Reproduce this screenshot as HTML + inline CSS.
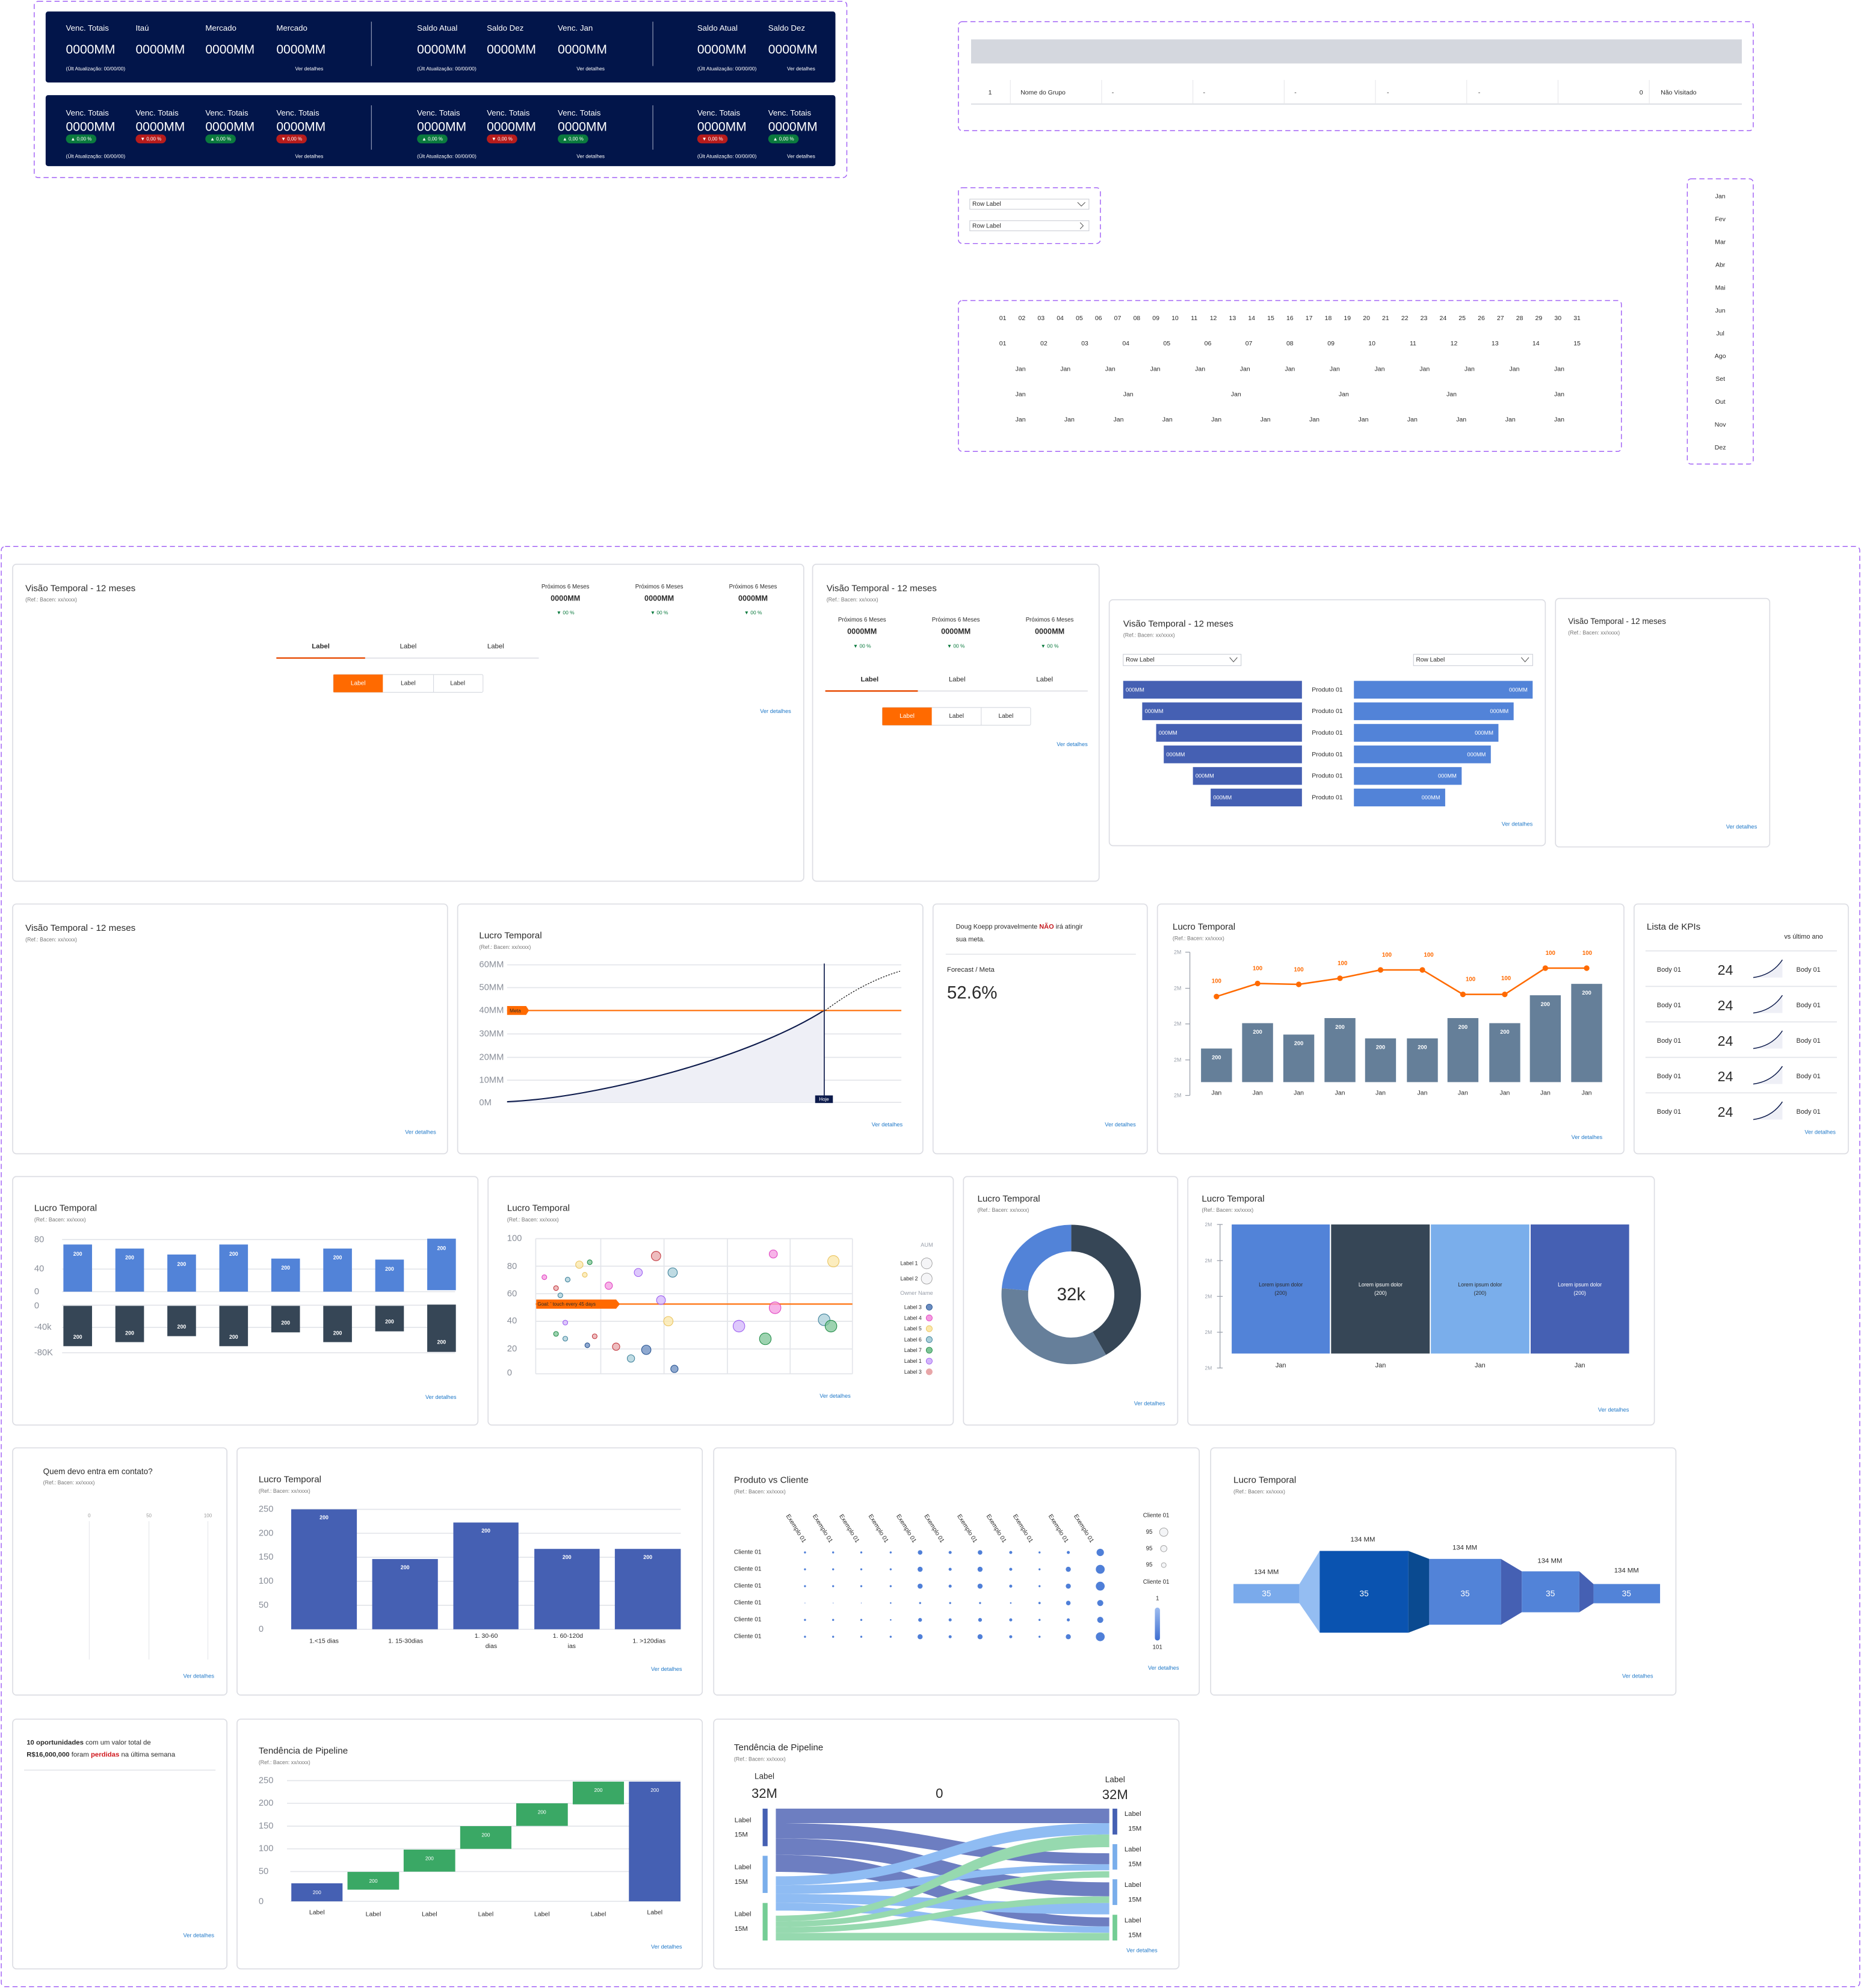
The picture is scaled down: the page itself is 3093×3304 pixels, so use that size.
<!DOCTYPE html>
<html><head><meta charset="utf-8">
<style>
html,body{margin:0;padding:0;background:#fff;}
svg{display:block;}
text{font-family:"Liberation Sans",sans-serif;dominant-baseline:central;fill:#2b2b2b;}
.t{font-size:7.2px;}
.r{font-size:4.2px;fill:#777;}
.v{font-size:4.4px;fill:#1f78c8;text-anchor:end;}
.w{fill:#fff;}
.s{font-size:5.2px;}
.xs{font-size:4.4px;}
.c{text-anchor:middle;}
.e{text-anchor:end;}
.ax{font-size:7px;fill:#8a8f99;}
.ax text{fill:#8a8f99;}
.card{fill:#fff;stroke:#dcdde3;stroke-width:0.8;}
.dash{fill:none;stroke:#a262f5;stroke-width:0.7;stroke-dasharray:4 2.5;}
.g{stroke:#e3e5ea;stroke-width:0.8;}
</style></head><body>
<svg width="3093" height="3304" viewBox="0 0 1468 1568" xmlns="http://www.w3.org/2000/svg">
<rect width="1468" height="1568" fill="#fff"/>

<rect class="dash" x="27" y="1" width="641" height="139" rx="3"/>
<rect x="36" y="9" width="623" height="56" rx="2" fill="#02154a"/>
<rect x="36" y="75" width="623" height="56" rx="2" fill="#02154a"/>
<g stroke="#8a93b0" stroke-width="0.6">
<line x1="293" y1="17" x2="293" y2="52"/><line x1="515" y1="17" x2="515" y2="52"/>
<line x1="293" y1="83" x2="293" y2="118"/><line x1="515" y1="83" x2="515" y2="118"/>
</g>
<g class="w" font-size="6.3">
<text x="52" y="22" class="w">Venc. Totais</text><text x="107" y="22" class="w">Itaú</text><text x="162" y="22" class="w">Mercado</text><text x="218" y="22" class="w">Mercado</text>
<text x="329" y="22" class="w">Saldo Atual</text><text x="384" y="22" class="w">Saldo Dez</text><text x="440" y="22" class="w">Venc. Jan</text>
<text x="550" y="22" class="w">Saldo Atual</text><text x="606" y="22" class="w">Saldo Dez</text>
<text x="52" y="89" class="w">Venc. Totais</text><text x="107" y="89" class="w">Venc. Totais</text><text x="162" y="89" class="w">Venc. Totais</text><text x="218" y="89" class="w">Venc. Totais</text>
<text x="329" y="89" class="w">Venc. Totais</text><text x="384" y="89" class="w">Venc. Totais</text><text x="440" y="89" class="w">Venc. Totais</text>
<text x="550" y="89" class="w">Venc. Totais</text><text x="606" y="89" class="w">Venc. Totais</text>
</g>
<g font-size="10">
<text x="52" y="39" class="w">0000MM</text><text x="107" y="39" class="w">0000MM</text><text x="162" y="39" class="w">0000MM</text><text x="218" y="39" class="w">0000MM</text>
<text x="329" y="39" class="w">0000MM</text><text x="384" y="39" class="w">0000MM</text><text x="440" y="39" class="w">0000MM</text>
<text x="550" y="39" class="w">0000MM</text><text x="606" y="39" class="w">0000MM</text>
<text x="52" y="100" class="w">0000MM</text><text x="107" y="100" class="w">0000MM</text><text x="162" y="100" class="w">0000MM</text><text x="218" y="100" class="w">0000MM</text>
<text x="329" y="100" class="w">0000MM</text><text x="384" y="100" class="w">0000MM</text><text x="440" y="100" class="w">0000MM</text>
<text x="550" y="100" class="w">0000MM</text><text x="606" y="100" class="w">0000MM</text>
</g>
<g font-size="4">
<text x="52" y="54" class="w">(Últ Atualização: 00/00/00)</text><text x="255" y="54" class="w e">Ver detalhes</text>
<text x="329" y="54" class="w">(Últ Atualização: 00/00/00)</text><text x="477" y="54" class="w e">Ver detalhes</text>
<text x="550" y="54" class="w">(Últ Atualização: 00/00/00)</text><text x="643" y="54" class="w e">Ver detalhes</text>
<text x="52" y="123" class="w">(Últ Atualização: 00/00/00)</text><text x="255" y="123" class="w e">Ver detalhes</text>
<text x="329" y="123" class="w">(Últ Atualização: 00/00/00)</text><text x="477" y="123" class="w e">Ver detalhes</text>
<text x="550" y="123" class="w">(Últ Atualização: 00/00/00)</text><text x="643" y="123" class="w e">Ver detalhes</text>
</g>
<g font-size="3.8">
<rect x="52" y="106" width="24" height="7" rx="3.5" fill="#0b7a3e"/><text x="64" y="109.5" class="w c">▲ 0,00 %</text>
<rect x="107" y="106" width="24" height="7" rx="3.5" fill="#b71c1c"/><text x="119" y="109.5" class="w c">▼ 0,00 %</text>
<rect x="162" y="106" width="24" height="7" rx="3.5" fill="#0b7a3e"/><text x="174" y="109.5" class="w c">▲ 0,00 %</text>
<rect x="218" y="106" width="24" height="7" rx="3.5" fill="#b71c1c"/><text x="230" y="109.5" class="w c">▼ 0,00 %</text>
<rect x="329" y="106" width="24" height="7" rx="3.5" fill="#0b7a3e"/><text x="341" y="109.5" class="w c">▲ 0,00 %</text>
<rect x="384" y="106" width="24" height="7" rx="3.5" fill="#b71c1c"/><text x="396" y="109.5" class="w c">▼ 0,00 %</text>
<rect x="440" y="106" width="24" height="7" rx="3.5" fill="#0b7a3e"/><text x="452" y="109.5" class="w c">▲ 0,00 %</text>
<rect x="550" y="106" width="24" height="7" rx="3.5" fill="#b71c1c"/><text x="562" y="109.5" class="w c">▼ 0,00 %</text>
<rect x="606" y="106" width="24" height="7" rx="3.5" fill="#0b7a3e"/><text x="618" y="109.5" class="w c">▲ 0,00 %</text>
</g>

<rect class="dash" x="756" y="17" width="627" height="86" rx="3"/>
<rect x="766" y="31" width="608" height="19" fill="#d4d7de"/>
<line x1="766" y1="82" x2="1374" y2="82" stroke="#d4d7de" stroke-width="0.8"/>
<g stroke="#e6e6ea" stroke-width="0.5">
<line x1="797" y1="63" x2="797" y2="82"/><line x1="869" y1="63" x2="869" y2="82"/><line x1="941" y1="63" x2="941" y2="82"/><line x1="1013" y1="63" x2="1013" y2="82"/><line x1="1085" y1="63" x2="1085" y2="82"/><line x1="1157" y1="63" x2="1157" y2="82"/><line x1="1229" y1="63" x2="1229" y2="82"/><line x1="1301" y1="63" x2="1301" y2="82"/>
</g>
<g font-size="5">
<text x="781" y="73" class="c">1</text><text x="805" y="73">Nome do Grupo</text>
<text x="877" y="73">-</text><text x="949" y="73">-</text><text x="1021" y="73">-</text><text x="1094" y="73">-</text><text x="1166" y="73">-</text>
<text x="1296" y="73" class="e">0</text><text x="1310" y="73">Não Visitado</text>
</g>

<rect class="dash" x="756" y="148" width="112" height="44" rx="3"/>
<rect x="765" y="157" width="94" height="8" fill="#fff" stroke="#c9ccd4" stroke-width="0.5"/>
<rect x="765" y="174" width="94" height="8" fill="#fff" stroke="#c9ccd4" stroke-width="0.5"/>
<text x="767" y="161" font-size="4.8">Row Label</text><text x="767" y="178.5" font-size="4.8">Row Label</text>
<path d="M850,159.5 L853,162.5 L856,159.5" fill="none" stroke="#555" stroke-width="0.5"/>
<path d="M852,175.5 L854.5,178 L852,180.5" fill="none" stroke="#555" stroke-width="0.5"/>

<rect class="dash" x="1331" y="141" width="52" height="225" rx="3"/>
<g font-size="5" text-anchor="middle">
<text x="1357" y="155" class="c">Jan</text><text x="1357" y="173" class="c">Fev</text><text x="1357" y="191" class="c">Mar</text><text x="1357" y="209" class="c">Abr</text><text x="1357" y="227" class="c">Mai</text><text x="1357" y="245" class="c">Jun</text><text x="1357" y="263" class="c">Jul</text><text x="1357" y="281" class="c">Ago</text><text x="1357" y="299" class="c">Set</text><text x="1357" y="317" class="c">Out</text><text x="1357" y="335" class="c">Nov</text><text x="1357" y="353" class="c">Dez</text>
</g>

<rect class="dash" x="756" y="237" width="523" height="119" rx="3"/>
<g font-size="5">
<text x="791" y="251" class="c">01</text><text x="806.1" y="251" class="c">02</text><text x="821.2" y="251" class="c">03</text><text x="836.3" y="251" class="c">04</text><text x="851.4" y="251" class="c">05</text><text x="866.5" y="251" class="c">06</text><text x="881.6" y="251" class="c">07</text><text x="896.7" y="251" class="c">08</text><text x="911.8" y="251" class="c">09</text><text x="926.9" y="251" class="c">10</text><text x="942" y="251" class="c">11</text><text x="957.1" y="251" class="c">12</text><text x="972.2" y="251" class="c">13</text><text x="987.3" y="251" class="c">14</text><text x="1002.4" y="251" class="c">15</text><text x="1017.5" y="251" class="c">16</text><text x="1032.6" y="251" class="c">17</text><text x="1047.7" y="251" class="c">18</text><text x="1062.8" y="251" class="c">19</text><text x="1077.9" y="251" class="c">20</text><text x="1093" y="251" class="c">21</text><text x="1108.1" y="251" class="c">22</text><text x="1123.2" y="251" class="c">23</text><text x="1138.3" y="251" class="c">24</text><text x="1153.4" y="251" class="c">25</text><text x="1168.5" y="251" class="c">26</text><text x="1183.6" y="251" class="c">27</text><text x="1198.7" y="251" class="c">28</text><text x="1213.8" y="251" class="c">29</text><text x="1228.9" y="251" class="c">30</text><text x="1244" y="251" class="c">31</text>
<text x="791" y="271" class="c">01</text><text x="823.4" y="271" class="c">02</text><text x="855.7" y="271" class="c">03</text><text x="888.1" y="271" class="c">04</text><text x="920.4" y="271" class="c">05</text><text x="952.8" y="271" class="c">06</text><text x="985.1" y="271" class="c">07</text><text x="1017.5" y="271" class="c">08</text><text x="1049.9" y="271" class="c">09</text><text x="1082.2" y="271" class="c">10</text><text x="1114.6" y="271" class="c">11</text><text x="1146.9" y="271" class="c">12</text><text x="1179.3" y="271" class="c">13</text><text x="1211.6" y="271" class="c">14</text><text x="1244" y="271" class="c">15</text>
<text x="805" y="291" class="c">Jan</text><text x="840.4" y="291" class="c">Jan</text><text x="875.8" y="291" class="c">Jan</text><text x="911.3" y="291" class="c">Jan</text><text x="946.7" y="291" class="c">Jan</text><text x="982.1" y="291" class="c">Jan</text><text x="1017.5" y="291" class="c">Jan</text><text x="1052.9" y="291" class="c">Jan</text><text x="1088.3" y="291" class="c">Jan</text><text x="1123.8" y="291" class="c">Jan</text><text x="1159.2" y="291" class="c">Jan</text><text x="1194.6" y="291" class="c">Jan</text><text x="1230" y="291" class="c">Jan</text>
<text x="805" y="311" class="c">Jan</text><text x="890" y="311" class="c">Jan</text><text x="975" y="311" class="c">Jan</text><text x="1060" y="311" class="c">Jan</text><text x="1145" y="311" class="c">Jan</text><text x="1230" y="311" class="c">Jan</text>
<text x="805" y="331" class="c">Jan</text><text x="843.6" y="331" class="c">Jan</text><text x="882.3" y="331" class="c">Jan</text><text x="920.9" y="331" class="c">Jan</text><text x="959.5" y="331" class="c">Jan</text><text x="998.2" y="331" class="c">Jan</text><text x="1036.8" y="331" class="c">Jan</text><text x="1075.5" y="331" class="c">Jan</text><text x="1114.1" y="331" class="c">Jan</text><text x="1152.7" y="331" class="c">Jan</text><text x="1191.4" y="331" class="c">Jan</text><text x="1230" y="331" class="c">Jan</text>
</g>

<rect class="dash" x="1" y="431" width="1466" height="1136" rx="3"/>

<rect class="card" x="10" y="445" width="624" height="250" rx="3"/>
<text x="20" y="464" class="t">Visão Temporal - 12 meses</text><text x="20" y="473" class="r">(Ref.: Bacen: xx/xxxx)</text>
<g font-size="4.6">
<text x="446" y="463" class="c">Próximos 6 Meses</text><text x="520" y="463" class="c">Próximos 6 Meses</text><text x="594" y="463" class="c">Próximos 6 Meses</text>
</g>
<g font-size="6" font-weight="bold">
<text x="446" y="472" class="c">0000MM</text><text x="520" y="472" class="c">0000MM</text><text x="594" y="472" class="c">0000MM</text>
</g>
<g font-size="4">
<text x="446" y="483" class="c" style="fill:#0b7a3e">▼ 00 %</text><text x="520" y="483" class="c" style="fill:#0b7a3e">▼ 00 %</text><text x="594" y="483" class="c" style="fill:#0b7a3e">▼ 00 %</text>
</g>
<g font-size="5.4"><text x="253" y="510" class="c" font-weight="bold">Label</text><text x="322" y="510" class="c">Label</text><text x="391" y="510" class="c">Label</text></g>
<line x1="218" y1="519" x2="425" y2="519" stroke="#dcdde3" stroke-width="0.8"/><line x1="218" y1="519" x2="288" y2="519" stroke="#e8530e" stroke-width="1.2"/>
<rect x="263" y="532" width="118" height="14" rx="1" fill="#fff" stroke="#d4d7de" stroke-width="0.5"/><rect x="263" y="532" width="39" height="14" fill="#ff6a00"/>
<line x1="342" y1="532" x2="342" y2="546" stroke="#d4d7de" stroke-width="0.5"/>
<g font-size="4.8"><text x="282.5" y="539" class="c w">Label</text><text x="322" y="539" class="c">Label</text><text x="361" y="539" class="c">Label</text></g>
<text x="624" y="561" class="v">Ver detalhes</text>

<rect class="card" x="641" y="445" width="226" height="250" rx="3"/>
<text x="652" y="464" class="t">Visão Temporal - 12 meses</text><text x="652" y="473" class="r">(Ref.: Bacen: xx/xxxx)</text>
<g font-size="4.6"><text x="680" y="489" class="c">Próximos 6 Meses</text><text x="754" y="489" class="c">Próximos 6 Meses</text><text x="828" y="489" class="c">Próximos 6 Meses</text></g>
<g font-size="6" font-weight="bold"><text x="680" y="498" class="c">0000MM</text><text x="754" y="498" class="c">0000MM</text><text x="828" y="498" class="c">0000MM</text></g>
<g font-size="4"><text x="680" y="509.5" class="c" style="fill:#0b7a3e">▼ 00 %</text><text x="754" y="509.5" class="c" style="fill:#0b7a3e">▼ 00 %</text><text x="828" y="509.5" class="c" style="fill:#0b7a3e">▼ 00 %</text></g>
<g font-size="5.4"><text x="686" y="536" class="c" font-weight="bold">Label</text><text x="755" y="536" class="c">Label</text><text x="824" y="536" class="c">Label</text></g>
<line x1="651" y1="545" x2="858" y2="545" stroke="#dcdde3" stroke-width="0.8"/><line x1="651" y1="545" x2="724" y2="545" stroke="#e8530e" stroke-width="1.2"/>
<rect x="696" y="558" width="117" height="14" rx="1" fill="#fff" stroke="#d4d7de" stroke-width="0.5"/><rect x="696" y="558" width="39" height="14" fill="#ff6a00"/>
<line x1="774" y1="558" x2="774" y2="572" stroke="#d4d7de" stroke-width="0.5"/>
<g font-size="4.8"><text x="715.5" y="565" class="c w">Label</text><text x="754.5" y="565" class="c">Label</text><text x="793.5" y="565" class="c">Label</text></g>
<text x="858" y="587" class="v">Ver detalhes</text>

<rect class="card" x="875" y="473" width="344" height="194" rx="3"/>
<text x="886" y="492" class="t">Visão Temporal - 12 meses</text><text x="886" y="501" class="r">(Ref.: Bacen: xx/xxxx)</text>
<rect x="886" y="516" width="93" height="9" fill="#fff" stroke="#c9ccd4" stroke-width="0.5"/><rect x="1115" y="516" width="94" height="9" fill="#fff" stroke="#c9ccd4" stroke-width="0.5"/>
<text x="888" y="520.5" font-size="4.8">Row Label</text><text x="1117" y="520.5" font-size="4.8">Row Label</text>
<path d="M970,518.5 L973,522 L976,518.5" fill="none" stroke="#555" stroke-width="0.5"/><path d="M1200,518.5 L1203,522 L1206,518.5" fill="none" stroke="#555" stroke-width="0.5"/>
<g fill="#4560b3">
<rect x="886" y="537" width="141" height="14"/><rect x="901" y="554" width="126" height="14"/><rect x="912" y="571" width="115" height="14"/><rect x="918" y="588" width="109" height="14"/><rect x="941" y="605" width="86" height="14"/><rect x="955" y="622" width="72" height="14"/>
</g>
<g fill="#5283d8">
<rect x="1068" y="537" width="141" height="14"/><rect x="1068" y="554" width="126" height="14"/><rect x="1068" y="571" width="114" height="14"/><rect x="1068" y="588" width="108" height="14"/><rect x="1068" y="605" width="85" height="14"/><rect x="1068" y="622" width="72" height="14"/>
</g>
<g font-size="4.4">
<text x="888" y="544" class="w">000MM</text><text x="903" y="561" class="w">000MM</text><text x="914" y="578" class="w">000MM</text><text x="920" y="595" class="w">000MM</text><text x="943" y="612" class="w">000MM</text><text x="957" y="629" class="w">000MM</text>
<text x="1205" y="544" class="w e">000MM</text><text x="1190" y="561" class="w e">000MM</text><text x="1178" y="578" class="w e">000MM</text><text x="1172" y="595" class="w e">000MM</text><text x="1149" y="612" class="w e">000MM</text><text x="1136" y="629" class="w e">000MM</text>
</g>
<g font-size="5"><text x="1047" y="544" class="c">Produto 01</text><text x="1047" y="561" class="c">Produto 01</text><text x="1047" y="578" class="c">Produto 01</text><text x="1047" y="595" class="c">Produto 01</text><text x="1047" y="612" class="c">Produto 01</text><text x="1047" y="629" class="c">Produto 01</text></g>
<text x="1209" y="650" class="v">Ver detalhes</text>

<rect class="card" x="1227" y="472" width="169" height="196" rx="3"/>
<text x="1237" y="490" class="t" style="font-size:6.4px">Visão Temporal - 12 meses</text><text x="1237" y="499" class="r">(Ref.: Bacen: xx/xxxx)</text>
<text x="1386" y="652" class="v">Ver detalhes</text>

<rect class="card" x="10" y="713" width="343" height="197" rx="3"/>
<text x="20" y="732" class="t">Visão Temporal - 12 meses</text><text x="20" y="741" class="r">(Ref.: Bacen: xx/xxxx)</text>
<text x="344" y="893" class="v">Ver detalhes</text>

<rect class="card" x="361" y="713" width="367" height="197" rx="3"/>
<text x="378" y="738" class="t">Lucro Temporal</text><text x="378" y="747" class="r">(Ref.: Bacen: xx/xxxx)</text>
<g class="g"><line x1="400" y1="761" x2="711" y2="761"/><line x1="400" y1="779" x2="711" y2="779"/><line x1="400" y1="815.5" x2="711" y2="815.5"/><line x1="400" y1="834" x2="711" y2="834"/><line x1="400" y1="852" x2="711" y2="852"/><line x1="400" y1="869.5" x2="711" y2="869.5"/></g>
<g class="ax"><text x="378" y="761">60MM</text><text x="378" y="779">50MM</text><text x="378" y="797">40MM</text><text x="378" y="815.5">30MM</text><text x="378" y="834">20MM</text><text x="378" y="852">10MM</text><text x="378" y="870">0M</text></g>
<path d="M400,869 C470,866 590,835 650,797 L650,869.5 L400,869.5 Z" fill="#eeeff6"/>
<path d="M400,869 C470,866 590,835 650,797" fill="none" stroke="#0c1a4b" stroke-width="1"/>
<line x1="400" y1="797" x2="711" y2="797" stroke="#ff6a00" stroke-width="1"/>
<path d="M400,793.5 L415,793.5 L417.3,797 L415,800.5 L400,800.5 Z" fill="#ff6a00"/><text x="402" y="797" font-size="4">Meta</text>
<path d="M651,797 Q680,775 710,766" fill="none" stroke="#111" stroke-width="0.6" stroke-dasharray="1.2 1"/>
<line x1="650.2" y1="760" x2="650.2" y2="869" stroke="#0c1a4b" stroke-width="0.8"/>
<rect x="643" y="864" width="14" height="6" fill="#0c1a4b"/><text x="650" y="867" font-size="3.8" class="c w">Hoje</text>
<text x="712" y="887" class="v">Ver detalhes</text>

<rect class="card" x="736" y="713" width="169" height="197" rx="3"/>
<text x="754" y="731" font-size="5.2">Doug Koepp provavelmente <tspan font-weight="bold" style="fill:#c4161c">NÃO</tspan> irá atingir</text>
<text x="754" y="741" font-size="5.2">sua meta.</text>
<line x1="746" y1="752.6" x2="896" y2="752.6" stroke="#dcdde3" stroke-width="0.6"/>
<text x="747" y="765" font-size="5.4">Forecast / Meta</text>
<text x="747" y="783" font-size="14">52.6%</text>
<text x="896" y="887" class="v">Ver detalhes</text>

<rect class="card" x="913" y="713" width="368" height="197" rx="3"/>
<text x="925" y="731" class="t">Lucro Temporal</text><text x="925" y="740" class="r">(Ref.: Bacen: xx/xxxx)</text>
<line x1="938.6" y1="751" x2="938.6" y2="864" stroke="#9aa0ab" stroke-width="0.6"/>
<g stroke="#9aa0ab" stroke-width="0.6"><line x1="935" y1="751" x2="938.6" y2="751"/><line x1="935" y1="779.5" x2="938.6" y2="779.5"/><line x1="935" y1="807.6" x2="938.6" y2="807.6"/><line x1="935" y1="836" x2="938.6" y2="836"/><line x1="935" y1="864" x2="938.6" y2="864"/></g>
<g font-size="4.2"><text x="926" y="751" style="fill:#9aa0ab">2M</text><text x="926" y="779.5" style="fill:#9aa0ab">2M</text><text x="926" y="807.6" style="fill:#9aa0ab">2M</text><text x="926" y="836" style="fill:#9aa0ab">2M</text><text x="926" y="864" style="fill:#9aa0ab">2M</text></g>
<g fill="#657f99">
<rect x="947.4" y="827" width="24.4" height="26.5"/><rect x="979.8" y="807" width="24.4" height="46.5"/><rect x="1012.3" y="816" width="24.4" height="37.5"/><rect x="1044.8" y="803" width="24.4" height="50.5"/><rect x="1076.8" y="819" width="24.4" height="34.5"/><rect x="1109.8" y="819" width="24.4" height="34.5"/><rect x="1141.8" y="803" width="24.4" height="50.5"/><rect x="1174.8" y="807" width="24.4" height="46.5"/><rect x="1206.8" y="785" width="24.4" height="68.5"/><rect x="1239.4" y="776" width="24.4" height="77.5"/>
</g>
<g font-size="4.4" font-weight="bold">
<text x="959.6" y="834" class="c w">200</text><text x="992" y="814" class="c w">200</text><text x="1024.5" y="823" class="c w">200</text><text x="1057" y="810" class="c w">200</text><text x="1089" y="826" class="c w">200</text><text x="1122" y="826" class="c w">200</text><text x="1154" y="810" class="c w">200</text><text x="1187" y="814" class="c w">200</text><text x="1219" y="792" class="c w">200</text><text x="1251.6" y="783" class="c w">200</text>
</g>
<polyline points="959.6,786 992,775.7 1024.5,776.4 1057,771.6 1089,765 1122,765 1154,784.3 1187,784.3 1219,763.6 1251.6,763.6" fill="none" stroke="#ff6a00" stroke-width="1.2"/>
<g fill="#ff6a00"><circle cx="959.6" cy="786" r="2.2"/><circle cx="992" cy="775.7" r="2.2"/><circle cx="1024.5" cy="776.4" r="2.2"/><circle cx="1057" cy="771.6" r="2.2"/><circle cx="1089" cy="765" r="2.2"/><circle cx="1122" cy="765" r="2.2"/><circle cx="1154" cy="784.3" r="2.2"/><circle cx="1187" cy="784.3" r="2.2"/><circle cx="1219" cy="763.6" r="2.2"/><circle cx="1251.6" cy="763.6" r="2.2"/></g>
<g font-size="4.6" font-weight="bold">
<text x="959.6" y="774" class="c" style="fill:#ff6a00">100</text><text x="992" y="764" class="c" style="fill:#ff6a00">100</text><text x="1024.5" y="765" class="c" style="fill:#ff6a00">100</text><text x="1059" y="760" class="c" style="fill:#ff6a00">100</text><text x="1094" y="753.5" class="c" style="fill:#ff6a00">100</text><text x="1127" y="753.5" class="c" style="fill:#ff6a00">100</text><text x="1160" y="772.5" class="c" style="fill:#ff6a00">100</text><text x="1188" y="772" class="c" style="fill:#ff6a00">100</text><text x="1223" y="752" class="c" style="fill:#ff6a00">100</text><text x="1252" y="752" class="c" style="fill:#ff6a00">100</text>
</g>
<g font-size="5"><text x="959.6" y="862" class="c">Jan</text><text x="992" y="862" class="c">Jan</text><text x="1024.5" y="862" class="c">Jan</text><text x="1057" y="862" class="c">Jan</text><text x="1089" y="862" class="c">Jan</text><text x="1122" y="862" class="c">Jan</text><text x="1154" y="862" class="c">Jan</text><text x="1187" y="862" class="c">Jan</text><text x="1219" y="862" class="c">Jan</text><text x="1251.6" y="862" class="c">Jan</text></g>
<text x="1264" y="897" class="v">Ver detalhes</text>

<rect class="card" x="1289" y="713" width="169" height="197" rx="3"/>
<text x="1299" y="731" class="t">Lista de KPIs</text><text x="1438" y="739" font-size="5.2" class="e">vs último ano</text>
<g stroke="#e3e5ea" stroke-width="0.8"><line x1="1298" y1="750" x2="1449" y2="750"/><line x1="1298" y1="778" x2="1449" y2="778"/><line x1="1298" y1="806" x2="1449" y2="806"/><line x1="1298" y1="834" x2="1449" y2="834"/><line x1="1298" y1="862" x2="1449" y2="862"/></g>
<g font-size="5.2">
<text x="1307" y="765">Body 01</text><text x="1417" y="765">Body 01</text>
<text x="1307" y="793">Body 01</text><text x="1417" y="793">Body 01</text>
<text x="1307" y="821">Body 01</text><text x="1417" y="821">Body 01</text>
<text x="1307" y="849">Body 01</text><text x="1417" y="849">Body 01</text>
<text x="1307" y="877">Body 01</text><text x="1417" y="877">Body 01</text>
</g>
<g font-size="11"><text x="1361" y="765" class="c">24</text><text x="1361" y="793" class="c">24</text><text x="1361" y="821" class="c">24</text><text x="1361" y="849" class="c">24</text><text x="1361" y="877" class="c">24</text></g>
<g fill="#eeeff6" stroke="none">
<path d="M1383,771 Q1398,769 1406,757 L1406,771 Z"/><path d="M1383,799 Q1398,797 1406,785 L1406,799 Z"/><path d="M1383,827 Q1398,825 1406,813 L1406,827 Z"/><path d="M1383,855 Q1398,853 1406,841 L1406,855 Z"/><path d="M1383,883 Q1398,881 1406,869 L1406,883 Z"/>
</g>
<g fill="none" stroke="#0c1a4b" stroke-width="0.7">
<path d="M1383,771 Q1398,769 1406,757"/><path d="M1383,799 Q1398,797 1406,785"/><path d="M1383,827 Q1398,825 1406,813"/><path d="M1383,855 Q1398,853 1406,841"/><path d="M1383,883 Q1398,881 1406,869"/>
</g>
<text x="1448" y="893" class="v">Ver detalhes</text>

<rect class="card" x="10" y="928" width="367" height="196" rx="3"/>
<text x="27" y="953" class="t">Lucro Temporal</text><text x="27" y="962" class="r">(Ref.: Bacen: xx/xxxx)</text>
<g class="g"><line x1="49" y1="977.7" x2="359" y2="977.7"/><line x1="49" y1="1001" x2="359" y2="1001"/><line x1="49" y1="1018.8" x2="359" y2="1018.8"/><line x1="49" y1="1029.5" x2="359" y2="1029.5"/><line x1="49" y1="1047" x2="359" y2="1047"/><line x1="49" y1="1067" x2="359" y2="1067"/></g>
<g class="ax"><text x="27" y="978">80</text><text x="27" y="1001">40</text><text x="27" y="1019">0</text><text x="27" y="1030">0</text><text x="27" y="1047">-40k</text><text x="27" y="1067">-80K</text></g>
<g fill="#5283d8">
<rect x="50" y="981.6" width="22.6" height="37.2"/><rect x="91" y="984.8" width="22.6" height="34"/><rect x="132" y="989.5" width="22.6" height="29.3"/><rect x="173" y="981.6" width="22.6" height="37.2"/><rect x="214" y="992.7" width="22.6" height="26.1"/><rect x="255" y="984.8" width="22.6" height="34"/><rect x="296" y="993.5" width="22.6" height="25.3"/><rect x="337" y="977" width="22.6" height="40.6"/>
</g>
<g fill="#364656">
<rect x="50" y="1030" width="22.6" height="31.8"/><rect x="91" y="1030" width="22.6" height="28.6"/><rect x="132" y="1030" width="22.6" height="23.9"/><rect x="173" y="1030" width="22.6" height="31.8"/><rect x="214" y="1030" width="22.6" height="20.9"/><rect x="255" y="1030" width="22.6" height="28.6"/><rect x="296" y="1030" width="22.6" height="20.1"/><rect x="337" y="1029" width="22.6" height="37.3"/>
</g>
<g font-size="4.2" font-weight="bold">
<text x="61.3" y="989" class="c w">200</text><text x="102.3" y="992" class="c w">200</text><text x="143.3" y="997" class="c w">200</text><text x="184.3" y="989" class="c w">200</text><text x="225.3" y="1000" class="c w">200</text><text x="266.3" y="992" class="c w">200</text><text x="307.3" y="1001" class="c w">200</text><text x="348.3" y="984.5" class="c w">200</text>
<text x="61.3" y="1054.5" class="c w">200</text><text x="102.3" y="1051.5" class="c w">200</text><text x="143.3" y="1046.5" class="c w">200</text><text x="184.3" y="1054.5" class="c w">200</text><text x="225.3" y="1043.5" class="c w">200</text><text x="266.3" y="1051.5" class="c w">200</text><text x="307.3" y="1042.5" class="c w">200</text><text x="348.3" y="1058.5" class="c w">200</text>
</g>
<text x="360" y="1102" class="v">Ver detalhes</text>

<rect class="card" x="385" y="928" width="367" height="196" rx="3"/>
<text x="400" y="953" class="t">Lucro Temporal</text><text x="400" y="962" class="r">(Ref.: Bacen: xx/xxxx)</text>
<g class="g"><line x1="422.6" y1="977" x2="672.4" y2="977"/><line x1="422.6" y1="998.7" x2="672.4" y2="998.7"/><line x1="422.6" y1="1020.4" x2="672.4" y2="1020.4"/><line x1="422.6" y1="1042.2" x2="672.4" y2="1042.2"/><line x1="422.6" y1="1064" x2="672.4" y2="1064"/><line x1="422.6" y1="1083.6" x2="672.4" y2="1083.6"/>
<line x1="422.6" y1="977" x2="422.6" y2="1083.6"/><line x1="473.9" y1="977" x2="473.9" y2="1083.6"/><line x1="523.8" y1="977" x2="523.8" y2="1083.6"/><line x1="573.8" y1="977" x2="573.8" y2="1083.6"/><line x1="623.3" y1="977" x2="623.3" y2="1083.6"/><line x1="672.4" y1="977" x2="672.4" y2="1083.6"/></g>
<g class="ax"><text x="400" y="977">100</text><text x="400" y="999">80</text><text x="400" y="1020.5">60</text><text x="400" y="1042">40</text><text x="400" y="1064">20</text><text x="400" y="1083">0</text></g>
<line x1="422.6" y1="1028.6" x2="672.4" y2="1028.6" stroke="#ff6a00" stroke-width="1"/>
<path d="M423,1025 L486,1025 L489,1028.6 L486,1032.2 L423,1032.2 Z" fill="#ff6a00"/><text x="424" y="1028.6" font-size="3.8">Goal: ' touch every 45 days</text>
<g stroke-width="0.5" fill-opacity="0.75">
<circle cx="429.4" cy="1007.4" r="1.9" fill="#f49ae0" stroke="#e040c0"/>
<circle cx="438.6" cy="1016" r="1.9" fill="#e8a6a8" stroke="#c0333a"/>
<circle cx="442" cy="1021.7" r="1.9" fill="#a9cfd9" stroke="#3b7f99"/>
<circle cx="457" cy="997.5" r="2.9" fill="#fbe7a8" stroke="#e9c25a"/>
<circle cx="465.2" cy="995.6" r="1.9" fill="#7cc495" stroke="#1e8a45"/>
<circle cx="461.3" cy="1005.5" r="1.9" fill="#fbe7a8" stroke="#e9c25a"/>
<circle cx="447.8" cy="1009.3" r="1.9" fill="#a9cfd9" stroke="#3b7f99"/>
<circle cx="480.2" cy="1014.1" r="2.9" fill="#f49ae0" stroke="#e040c0"/>
<circle cx="503.5" cy="1003.7" r="3.2" fill="#d3b5fb" stroke="#9b5cf0"/>
<circle cx="517.5" cy="990.7" r="3.7" fill="#e8a6a8" stroke="#c0333a"/>
<circle cx="530.6" cy="1003.7" r="3.7" fill="#a9cfd9" stroke="#3b7f99"/>
<circle cx="521.4" cy="1025.5" r="3.5" fill="#d3b5fb" stroke="#9b5cf0"/>
<circle cx="610" cy="989.1" r="3.2" fill="#f49ae0" stroke="#e040c0"/>
<circle cx="657.4" cy="994.8" r="4.5" fill="#fbe7a8" stroke="#e9c25a"/>
<circle cx="445.9" cy="1043.2" r="1.9" fill="#d3b5fb" stroke="#9b5cf0"/>
<circle cx="438.6" cy="1052.1" r="1.9" fill="#7cc495" stroke="#1e8a45"/>
<circle cx="445.9" cy="1055.9" r="1.9" fill="#a9cfd9" stroke="#3b7f99"/>
<circle cx="469.1" cy="1054" r="1.9" fill="#e8a6a8" stroke="#c0333a"/>
<circle cx="463.3" cy="1061.1" r="1.9" fill="#6a8cc0" stroke="#24518f"/>
<circle cx="486" cy="1062.2" r="2.9" fill="#e8a6a8" stroke="#c0333a"/>
<circle cx="509.8" cy="1064.7" r="3.7" fill="#6a8cc0" stroke="#24518f"/>
<circle cx="497.7" cy="1071.5" r="2.9" fill="#a9cfd9" stroke="#3b7f99"/>
<circle cx="532" cy="1079.7" r="2.9" fill="#6a8cc0" stroke="#24518f"/>
<circle cx="527.2" cy="1042.1" r="3.7" fill="#fbe7a8" stroke="#e9c25a"/>
<circle cx="611.4" cy="1031.5" r="4.6" fill="#f49ae0" stroke="#e040c0"/>
<circle cx="582.9" cy="1046" r="4.6" fill="#d3b5fb" stroke="#9b5cf0"/>
<circle cx="603.7" cy="1056" r="4.6" fill="#7cc495" stroke="#1e8a45"/>
<circle cx="650.1" cy="1041" r="4.6" fill="#a9cfd9" stroke="#3b7f99"/>
<circle cx="655.5" cy="1046" r="4.6" fill="#7cc495" stroke="#1e8a45"/>
</g>
<text x="736" y="982" font-size="4.4" class="e" style="fill:#9aa0ab">AUM</text>
<circle cx="731" cy="996.5" r="4.3" fill="#f5f5f7" stroke="#999" stroke-width="0.4"/><text x="724" y="996.5" font-size="4.2" class="e">Label 1</text>
<circle cx="731" cy="1008.5" r="4.3" fill="#f5f5f7" stroke="#999" stroke-width="0.4"/><text x="724" y="1008.5" font-size="4.2" class="e">Label 2</text>
<text x="736" y="1020" font-size="4.4" class="e" style="fill:#9aa0ab">Owner Name</text>
<g font-size="4.2" stroke-width="0.4">
<circle cx="733" cy="1031" r="2.4" fill="#6a8cc0" stroke="#24518f"/><text x="727" y="1031" class="e">Label 3</text>
<circle cx="733" cy="1039.5" r="2.4" fill="#f49ae0" stroke="#e040c0"/><text x="727" y="1039.5" class="e">Label 4</text>
<circle cx="733" cy="1048" r="2.4" fill="#fbe7a8" stroke="#e9c25a"/><text x="727" y="1048" class="e">Label 5</text>
<circle cx="733" cy="1056.6" r="2.4" fill="#a9cfd9" stroke="#3b7f99"/><text x="727" y="1056.6" class="e">Label 6</text>
<circle cx="733" cy="1065" r="2.4" fill="#7cc495" stroke="#1e8a45"/><text x="727" y="1065" class="e">Label 7</text>
<circle cx="733" cy="1073.6" r="2.4" fill="#d3b5fb" stroke="#9b5cf0"/><text x="727" y="1073.6" class="e">Label 1</text>
<circle cx="733" cy="1082" r="2.4" fill="#e8a6a8" stroke="#e8a6a8"/><text x="727" y="1082" class="e">Label 3</text>
</g>
<text x="671" y="1101" class="v">Ver detalhes</text>

<rect class="card" x="760" y="928" width="169" height="196" rx="3"/>
<text x="771" y="945.7" class="t">Lucro Temporal</text><text x="771" y="954.5" class="r">(Ref.: Bacen: xx/xxxx)</text>
<g transform="rotate(-90 845 1021)" fill="none" stroke-width="21">
<circle cx="845" cy="1021" r="44.5" stroke="#364656" stroke-dasharray="116.5 300"/>
<circle cx="845" cy="1021" r="44.5" stroke="#667f9a" stroke-dasharray="97.1 300" stroke-dashoffset="-116.5"/>
<circle cx="845" cy="1021" r="44.5" stroke="#5283d8" stroke-dasharray="66 300" stroke-dashoffset="-213.6"/>
</g>
<text x="845" y="1021" font-size="14" class="c">32k</text>
<text x="919" y="1107" class="v">Ver detalhes</text>

<rect class="card" x="937" y="928" width="368" height="196" rx="3"/>
<text x="948" y="945.7" class="t">Lucro Temporal</text><text x="948" y="954.5" class="r">(Ref.: Bacen: xx/xxxx)</text>
<line x1="962.4" y1="965.8" x2="962.4" y2="1079" stroke="#9aa0ab" stroke-width="0.6"/>
<g stroke="#9aa0ab" stroke-width="0.6"><line x1="960" y1="965.8" x2="964.5" y2="965.8"/><line x1="960" y1="994.3" x2="964.5" y2="994.3"/><line x1="960" y1="1022.5" x2="964.5" y2="1022.5"/><line x1="960" y1="1050.8" x2="964.5" y2="1050.8"/><line x1="960" y1="1079" x2="964.5" y2="1079"/></g>
<g font-size="4"><text x="956" y="965.8" class="e" style="fill:#9aa0ab">2M</text><text x="956" y="994.3" class="e" style="fill:#9aa0ab">2M</text><text x="956" y="1022.5" class="e" style="fill:#9aa0ab">2M</text><text x="956" y="1050.8" class="e" style="fill:#9aa0ab">2M</text><text x="956" y="1079" class="e" style="fill:#9aa0ab">2M</text></g>
<rect x="971.6" y="965.8" width="77.4" height="101.8" fill="#5283d8"/><rect x="1050" y="965.8" width="77.8" height="101.8" fill="#364656"/><rect x="1128.7" y="965.8" width="77.7" height="101.8" fill="#7aaeeb"/><rect x="1207.4" y="965.8" width="77.7" height="101.8" fill="#4560b3"/>
<g font-size="4.2">
<text x="1010.3" y="1013.3" class="c">Lorem ipsum dolor</text><text x="1010.3" y="1020" class="c">(200)</text>
<text x="1089" y="1013.3" class="c w">Lorem ipsum dolor</text><text x="1089" y="1020" class="c w">(200)</text>
<text x="1167.5" y="1013.3" class="c">Lorem ipsum dolor</text><text x="1167.5" y="1020" class="c">(200)</text>
<text x="1246.2" y="1013.3" class="c w">Lorem ipsum dolor</text><text x="1246.2" y="1020" class="c w">(200)</text>
</g>
<g font-size="5.2"><text x="1010.3" y="1077" class="c">Jan</text><text x="1089" y="1077" class="c">Jan</text><text x="1167.5" y="1077" class="c">Jan</text><text x="1246.2" y="1077" class="c">Jan</text></g>
<text x="1285" y="1112" class="v">Ver detalhes</text>

<rect class="card" x="10" y="1142" width="169" height="195" rx="3"/>
<text x="34" y="1160.5" font-size="6.4">Quem devo entra em contato?</text><text x="34" y="1169.5" class="r">(Ref.: Bacen: xx/xxxx)</text>
<g font-size="3.8"><text x="70.4" y="1195.6" class="c" style="fill:#999">0</text><text x="117.5" y="1195.6" class="c" style="fill:#999">50</text><text x="164" y="1195.6" class="c" style="fill:#999">100</text></g>
<g stroke="#e3e5ea" stroke-width="0.5"><line x1="70.4" y1="1199.8" x2="70.4" y2="1309"/><line x1="117.5" y1="1199.8" x2="117.5" y2="1309"/><line x1="164" y1="1199.8" x2="164" y2="1309"/></g>
<text x="169" y="1322" class="v">Ver detalhes</text>

<rect class="card" x="187" y="1142" width="367" height="195" rx="3"/>
<text x="204" y="1167" class="t">Lucro Temporal</text><text x="204" y="1176" class="r">(Ref.: Bacen: xx/xxxx)</text>
<g class="g"><line x1="229.7" y1="1190.5" x2="537" y2="1190.5"/><line x1="229.7" y1="1209.4" x2="537" y2="1209.4"/><line x1="229.7" y1="1228.3" x2="537" y2="1228.3"/><line x1="229.7" y1="1247.3" x2="537" y2="1247.3"/><line x1="229.7" y1="1266.2" x2="537" y2="1266.2"/><line x1="229.7" y1="1285.1" x2="537" y2="1285.1"/></g>
<g class="ax"><text x="204" y="1190.5">250</text><text x="204" y="1209.4">200</text><text x="204" y="1228.3">150</text><text x="204" y="1247.3">100</text><text x="204" y="1266.2">50</text><text x="204" y="1285.1">0</text></g>
<g fill="#4560b3"><rect x="229.7" y="1190.5" width="51.8" height="94.6"/><rect x="293.6" y="1229.7" width="51.8" height="55.4"/><rect x="357.6" y="1200.9" width="51.4" height="84.2"/><rect x="421.5" y="1221.7" width="51.5" height="63.4"/><rect x="485" y="1221.7" width="52" height="63.4"/></g>
<g font-size="4.2" font-weight="bold"><text x="255.6" y="1197" class="c w">200</text><text x="319.5" y="1236.3" class="c w">200</text><text x="383.3" y="1207.3" class="c w">200</text><text x="447.2" y="1228.3" class="c w">200</text><text x="511" y="1228.3" class="c w">200</text></g>
<g font-size="5"><text x="255.6" y="1294.4" class="c">1.&lt;15 dias</text><text x="320" y="1294.4" class="c">1. 15-30dias</text><text x="383.5" y="1290.5" class="c">1. 30-60</text><text x="387.5" y="1298.5" class="c">dias</text><text x="448" y="1290.5" class="c">1. 60-120d</text><text x="451" y="1298.5" class="c">ias</text><text x="512" y="1294.4" class="c">1. &gt;120dias</text></g>
<text x="538" y="1316.5" class="v">Ver detalhes</text>

<rect class="card" x="563" y="1142" width="383" height="195" rx="3"/>
<text x="579" y="1167.5" class="t">Produto vs Cliente</text><text x="579" y="1176.5" class="r">(Ref.: Bacen: xx/xxxx)</text>
<g font-size="4.8">
<text transform="translate(621 1195) rotate(58)">Exemplo 01</text><text transform="translate(642 1195) rotate(58)">Exemplo 01</text><text transform="translate(663 1195) rotate(58)">Exemplo 01</text><text transform="translate(686 1195) rotate(58)">Exemplo 01</text><text transform="translate(708 1195) rotate(58)">Exemplo 01</text><text transform="translate(730 1195) rotate(58)">Exemplo 01</text><text transform="translate(756 1195) rotate(58)">Exemplo 01</text><text transform="translate(779 1195) rotate(58)">Exemplo 01</text><text transform="translate(800 1195) rotate(58)">Exemplo 01</text><text transform="translate(828 1195) rotate(58)">Exemplo 01</text><text transform="translate(848 1195) rotate(58)">Exemplo 01</text>
</g>
<g font-size="4.8"><text x="579" y="1224.5">Cliente 01</text><text x="579" y="1237.8">Cliente 01</text><text x="579" y="1251.1">Cliente 01</text><text x="579" y="1264.4">Cliente 01</text><text x="579" y="1277.7">Cliente 01</text><text x="579" y="1291">Cliente 01</text></g>
<g fill="#4f7fd8">
<circle cx="635" cy="1224.5" r="0.8"/><circle cx="657.2" cy="1224.5" r="0.8"/><circle cx="679.4" cy="1224.5" r="0.8"/><circle cx="702.6" cy="1224.5" r="0.8"/><circle cx="725.8" cy="1224.5" r="1.8"/><circle cx="749.5" cy="1224.5" r="1.2"/><circle cx="773.1" cy="1224.5" r="1.8"/><circle cx="797.3" cy="1224.5" r="1.2"/><circle cx="820" cy="1224.5" r="0.8"/><circle cx="842.7" cy="1224.5" r="1.2"/><circle cx="867.9" cy="1224.5" r="2.9"/>
<circle cx="635" cy="1237.8" r="0.8"/><circle cx="657.2" cy="1237.8" r="0.8"/><circle cx="679.4" cy="1237.8" r="0.8"/><circle cx="702.6" cy="1237.8" r="0.8"/><circle cx="725.8" cy="1237.8" r="2"/><circle cx="749.5" cy="1237.8" r="1.2"/><circle cx="773.1" cy="1237.8" r="2"/><circle cx="797.3" cy="1237.8" r="1.2"/><circle cx="820" cy="1237.8" r="0.8"/><circle cx="842.7" cy="1237.8" r="2"/><circle cx="867.9" cy="1237.8" r="3.5"/>
<circle cx="635" cy="1251.1" r="0.8"/><circle cx="657.2" cy="1251.1" r="0.8"/><circle cx="679.4" cy="1251.1" r="0.8"/><circle cx="702.6" cy="1251.1" r="0.8"/><circle cx="725.8" cy="1251.1" r="2"/><circle cx="749.5" cy="1251.1" r="1.2"/><circle cx="773.1" cy="1251.1" r="2"/><circle cx="797.3" cy="1251.1" r="1.2"/><circle cx="820" cy="1251.1" r="0.8"/><circle cx="842.7" cy="1251.1" r="2"/><circle cx="867.9" cy="1251.1" r="3.5"/>
<circle cx="635" cy="1264.4" r="0.3"/><circle cx="657.2" cy="1264.4" r="0.3"/><circle cx="679.4" cy="1264.4" r="0.3"/><circle cx="702.6" cy="1264.4" r="0.6"/><circle cx="725.8" cy="1264.4" r="0.8"/><circle cx="749.5" cy="1264.4" r="0.8"/><circle cx="773.1" cy="1264.4" r="0.8"/><circle cx="797.3" cy="1264.4" r="0.6"/><circle cx="820" cy="1264.4" r="0.9"/><circle cx="842.7" cy="1264.4" r="1.8"/><circle cx="867.9" cy="1264.4" r="2.4"/>
<circle cx="635" cy="1277.7" r="0.8"/><circle cx="657.2" cy="1277.7" r="0.8"/><circle cx="679.4" cy="1277.7" r="0.8"/><circle cx="702.6" cy="1277.7" r="0.6"/><circle cx="725.8" cy="1277.7" r="1.5"/><circle cx="749.5" cy="1277.7" r="1.2"/><circle cx="773.1" cy="1277.7" r="1.5"/><circle cx="797.3" cy="1277.7" r="1.2"/><circle cx="820" cy="1277.7" r="0.8"/><circle cx="842.7" cy="1277.7" r="1.2"/><circle cx="867.9" cy="1277.7" r="2.4"/>
<circle cx="635" cy="1291" r="0.8"/><circle cx="657.2" cy="1291" r="0.8"/><circle cx="679.4" cy="1291" r="0.8"/><circle cx="702.6" cy="1291" r="0.8"/><circle cx="725.8" cy="1291" r="2"/><circle cx="749.5" cy="1291" r="1.2"/><circle cx="773.1" cy="1291" r="2"/><circle cx="797.3" cy="1291" r="1.2"/><circle cx="820" cy="1291" r="0.8"/><circle cx="842.7" cy="1291" r="2"/><circle cx="867.9" cy="1291" r="3.5"/>
</g>
<g font-size="4.6"><text x="912" y="1195.5" class="c">Cliente 01</text><text x="904" y="1208.5">95</text><text x="904" y="1221.5">95</text><text x="904" y="1234.5">95</text><text x="912" y="1248" class="c">Cliente 01</text><text x="913" y="1261" class="c">1</text><text x="913" y="1299.5" class="c">101</text></g>
<g fill="#f4f5f7" stroke="#999" stroke-width="0.4"><circle cx="918" cy="1208.5" r="3.3"/><circle cx="918" cy="1221.5" r="2.5"/><circle cx="918" cy="1234.5" r="1.9"/></g>
<defs><linearGradient id="gb" x1="0" y1="0" x2="0" y2="1"><stop offset="0" stop-color="#9dbcf0"/><stop offset="1" stop-color="#3f6fd0"/></linearGradient></defs>
<rect x="911" y="1268" width="4" height="26" rx="2" fill="url(#gb)"/>
<text x="930" y="1315.5" class="v">Ver detalhes</text>

<rect class="card" x="955" y="1142" width="367" height="195" rx="3"/>
<text x="973" y="1167.5" class="t">Lucro Temporal</text><text x="973" y="1176.5" class="r">(Ref.: Bacen: xx/xxxx)</text>
<rect x="973" y="1249.4" width="52" height="15.2" fill="#7aaaeb"/>
<path d="M1025,1249.4 L1041,1223.3 L1041,1287.8 L1025,1264.6 Z" fill="#94bdf2"/>
<rect x="1041" y="1223.3" width="70" height="64.5" fill="#0a53b0"/>
<path d="M1111,1223.3 L1127.4,1229.6 L1127.4,1281.5 L1111,1287.8 Z" fill="#0a4a90"/>
<rect x="1127.4" y="1229.6" width="56.6" height="51.9" fill="#5283d8"/>
<path d="M1184,1229.6 L1200.4,1239.4 L1200.4,1271.7 L1184,1281.5 Z" fill="#4560b3"/>
<rect x="1200.4" y="1239.4" width="45.4" height="32.3" fill="#5283d8"/>
<path d="M1245.8,1239.4 L1257,1249.4 L1257,1264.6 L1245.8,1271.7 Z" fill="#4560b3"/>
<rect x="1257" y="1249.4" width="52.5" height="15.2" fill="#5283d8"/>
<g font-size="6.5"><text x="999" y="1257" class="c w">35</text><text x="1076" y="1257" class="c w">35</text><text x="1155.7" y="1257" class="c w">35</text><text x="1223" y="1257" class="c w">35</text><text x="1283" y="1257" class="c w">35</text></g>
<g font-size="5.4"><text x="999" y="1240" class="c">134 MM</text><text x="1075" y="1214.6" class="c">134 MM</text><text x="1155.5" y="1221" class="c">134 MM</text><text x="1222.6" y="1231.3" class="c">134 MM</text><text x="1283" y="1239" class="c">134 MM</text></g>
<text x="1304" y="1322" class="v">Ver detalhes</text>

<rect class="card" x="10" y="1356" width="169" height="197" rx="3"/>
<text x="21" y="1374.6" font-size="5.4"><tspan font-weight="bold">10 oportunidades</tspan> com um valor total de</text>
<text x="21" y="1384.2" font-size="5.4"><tspan font-weight="bold">R$16,000,000</tspan> foram <tspan font-weight="bold" style="fill:#d0191f">perdidas</tspan> na última semana</text>
<line x1="19" y1="1396.2" x2="170" y2="1396.2" stroke="#dcdde3" stroke-width="0.6"/>
<text x="169" y="1526.5" class="v">Ver detalhes</text>

<rect class="card" x="187" y="1356" width="367" height="197" rx="3"/>
<text x="204" y="1381" class="t">Tendência de Pipeline</text><text x="204" y="1390" class="r">(Ref.: Bacen: xx/xxxx)</text>
<g class="g"><line x1="226.4" y1="1404.5" x2="536.8" y2="1404.5"/><line x1="226.4" y1="1422.4" x2="536.8" y2="1422.4"/><line x1="226.4" y1="1440.4" x2="536.8" y2="1440.4"/><line x1="226.4" y1="1458.3" x2="536.8" y2="1458.3"/><line x1="229" y1="1476.2" x2="536.8" y2="1476.2"/><line x1="229" y1="1499.7" x2="536.8" y2="1499.7"/></g>
<g class="ax"><text x="204" y="1404.5">250</text><text x="204" y="1422.4">200</text><text x="204" y="1440.4">150</text><text x="204" y="1458.3">100</text><text x="204" y="1476.2">50</text><text x="204" y="1500">0</text></g>
<rect x="229.8" y="1485.5" width="40.4" height="14.2" fill="#4560b3"/>
<g fill="#3aa865"><rect x="274.1" y="1476.5" width="40.7" height="14"/><rect x="318.4" y="1458.9" width="40.7" height="17.4"/><rect x="363" y="1440.4" width="40.4" height="17.9"/><rect x="407.2" y="1422.4" width="40.7" height="17.8"/><rect x="451.8" y="1405.3" width="40.4" height="17.9"/></g>
<rect x="496.1" y="1405.3" width="40.7" height="94.4" fill="#4560b3"/>
<g font-size="4"><text x="250" y="1492.5" class="c w">200</text><text x="294.5" y="1483.5" class="c w">200</text><text x="338.8" y="1465.8" class="c w">200</text><text x="383.2" y="1447.3" class="c w">200</text><text x="427.5" y="1429.3" class="c w">200</text><text x="472" y="1412" class="c w">200</text><text x="516.5" y="1412" class="c w">200</text></g>
<g font-size="5"><text x="250" y="1508.5" class="c">Label</text><text x="294.5" y="1510" class="c">Label</text><text x="338.8" y="1510" class="c">Label</text><text x="383.2" y="1510" class="c">Label</text><text x="427.5" y="1510" class="c">Label</text><text x="472" y="1510" class="c">Label</text><text x="516.5" y="1508.5" class="c">Label</text></g>
<text x="538" y="1535.5" class="v">Ver detalhes</text>

<rect class="card" x="563" y="1356" width="367" height="197" rx="3"/>
<text x="579" y="1378.5" class="t">Tendência de Pipeline</text><text x="579" y="1387.5" class="r">(Ref.: Bacen: xx/xxxx)</text>
<text x="603" y="1401" font-size="6.4" class="c">Label</text><text x="603" y="1414.6" font-size="10.5" class="c">32M</text>
<text x="741" y="1414.6" font-size="10.5" class="c">0</text>
<text x="879.6" y="1403.7" font-size="6.4" class="c">Label</text><text x="879.6" y="1415.4" font-size="10.5" class="c">32M</text>
<g opacity="0.75">
<path d="M612,1426.6 C743,1426.6 743,1426.6 875,1426.6 L875,1438 C743,1438 743,1438 612,1438 Z" fill="#3d53ad"/>
<path d="M612,1438 C743,1438 743,1461.8 875,1461.8 L875,1470.5 C743,1470.5 743,1450 612,1450 Z" fill="#3d53ad"/>
<path d="M612,1450 C743,1450 743,1484.7 875,1484.7 L875,1495.8 C743,1495.8 743,1463 612,1463 Z" fill="#3d53ad"/>
<path d="M612,1463 C743,1463 743,1512.4 875,1512.4 L875,1519.5 C743,1519.5 743,1476.5 612,1476.5 Z" fill="#3d53ad"/>
<path d="M612,1480 C743,1480 743,1438 875,1438 L875,1447 C743,1447 743,1487 612,1487 Z" fill="#6aa6ef"/>
<path d="M612,1487 C743,1487 743,1470.5 875,1470.5 L875,1475.2 C743,1475.2 743,1494 612,1494 Z" fill="#6aa6ef"/>
<path d="M612,1494 C743,1494 743,1501 875,1501 L875,1510 C743,1510 743,1501 612,1501 Z" fill="#6aa6ef"/>
<path d="M612,1501 C743,1501 743,1519.5 875,1519.5 L875,1524.5 C743,1524.5 743,1507 612,1507 Z" fill="#6aa6ef"/>
<path d="M612,1511 C743,1511 743,1447 875,1447 L875,1457 C743,1457 743,1515.5 612,1515.5 Z" fill="#74cd95"/>
<path d="M612,1515.5 C743,1515.5 743,1476 875,1476 L875,1481 C743,1481 743,1520 612,1520 Z" fill="#74cd95"/>
<path d="M612,1520 C743,1520 743,1495.8 875,1495.8 L875,1501 C743,1501 743,1524.6 612,1524.6 Z" fill="#74cd95"/>
<path d="M612,1524.6 L875,1524.6 L875,1530.6 L612,1530.6 Z" fill="#74cd95"/>
</g>
<rect x="601.6" y="1426.6" width="3.9" height="29.6" fill="#4560b3"/><rect x="601.6" y="1463.8" width="3.9" height="29.3" fill="#7aaeeb"/><rect x="601.6" y="1501" width="3.9" height="29.6" fill="#74cd95"/>
<rect x="877.6" y="1426.6" width="3.7" height="20.4" fill="#4560b3"/><rect x="877.6" y="1454.6" width="3.7" height="20.1" fill="#7aaeeb"/><rect x="877.6" y="1482.3" width="3.7" height="20.3" fill="#7aaeeb"/><rect x="877.6" y="1510.3" width="3.7" height="20.3" fill="#74cd95"/>
<g font-size="5.4">
<text x="579.4" y="1436">Label</text><text x="579.4" y="1447.2">15M</text>
<text x="579.4" y="1473">Label</text><text x="579.4" y="1484.5">15M</text>
<text x="579.4" y="1510">Label</text><text x="579.4" y="1521.5">15M</text>
<text x="887" y="1431">Label</text><text x="890" y="1442.5">15M</text>
<text x="887" y="1459">Label</text><text x="890" y="1470.5">15M</text>
<text x="887" y="1487">Label</text><text x="890" y="1498.5">15M</text>
<text x="887" y="1515">Label</text><text x="890" y="1526.5">15M</text>
</g>
<text x="913" y="1538.5" class="v">Ver detalhes</text>
</svg>
</body></html>
